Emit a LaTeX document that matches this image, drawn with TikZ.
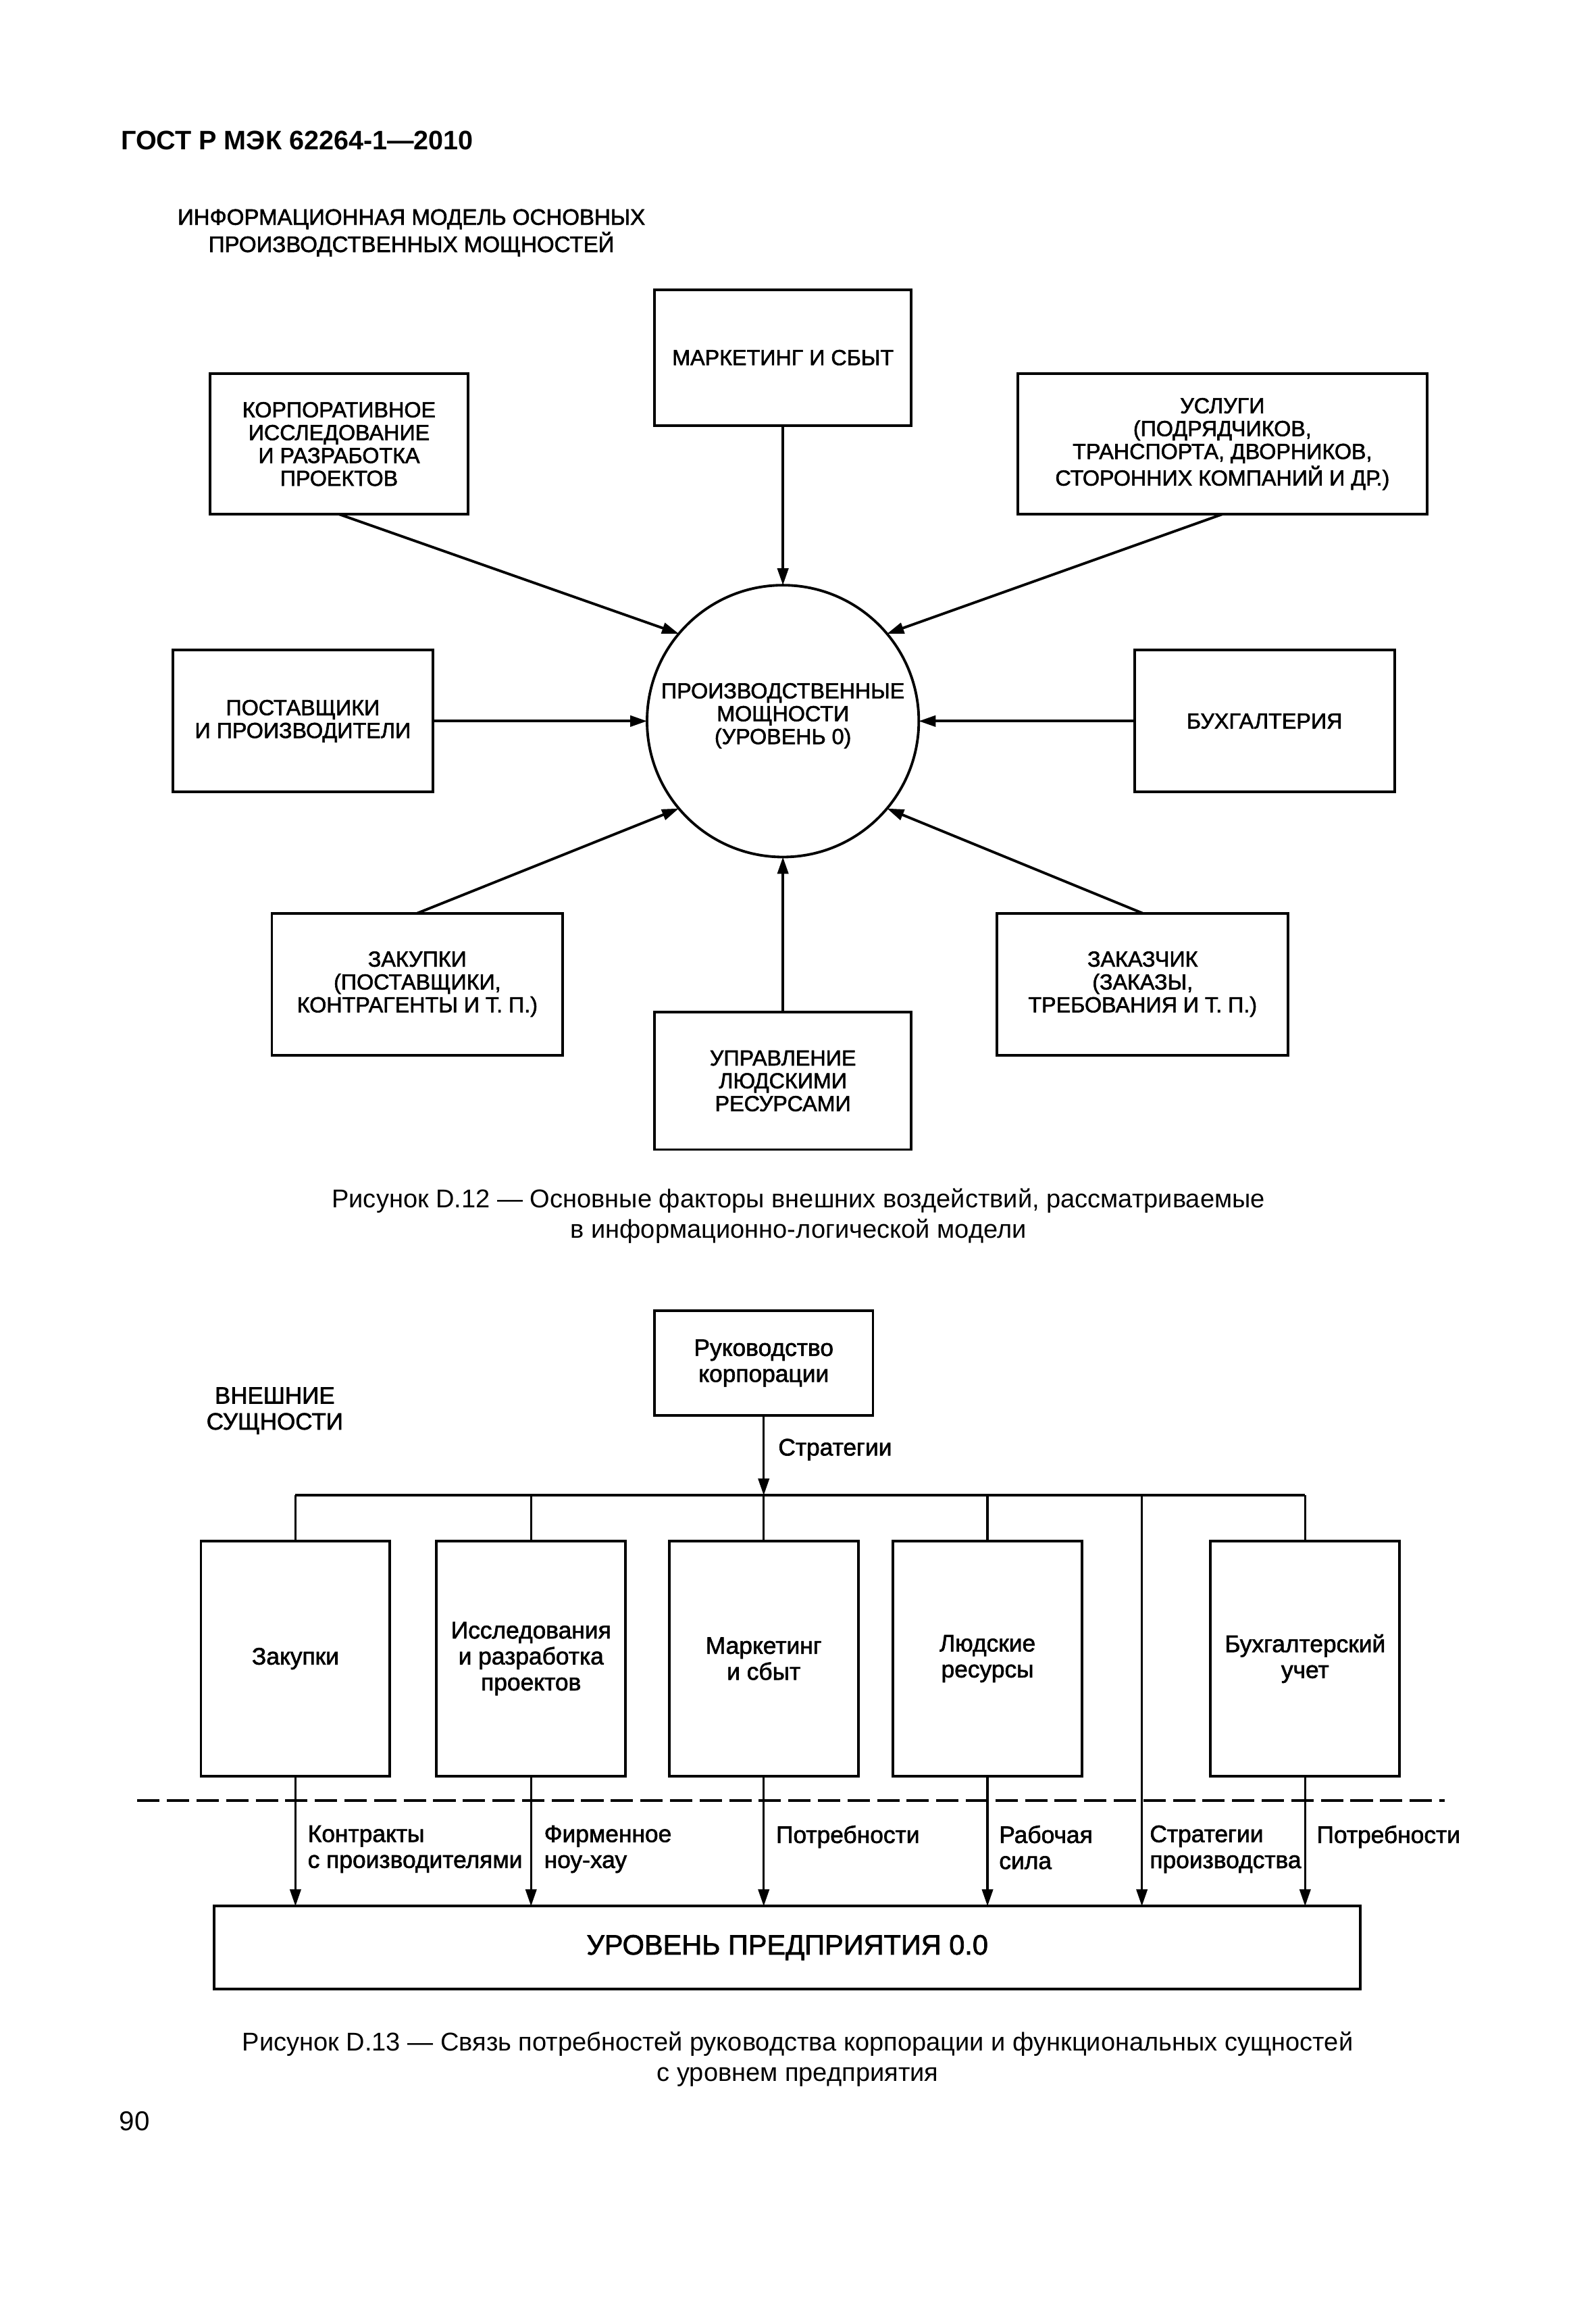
\documentclass[tikz,border=0pt]{standalone}
\usepackage{fontspec}
\setmainfont{Liberation Sans}
\newfontfamily\dfont{Liberation Sans}[FakeBold=1.8]
\usetikzlibrary{arrows.meta,calc}
\begin{document}
\begin{tikzpicture}[x=0.02cm,y=-0.02cm,
  line width=1pt,
  fa/.style={font=\dfont\fontsize{8.4}{8.8}\selectfont},
  fb/.style={font=\dfont\fontsize{9.2}{10}\selectfont},
  tbox/.style={draw, rectangle, align=center, inner sep=0pt, outer sep=0pt, fa},
  bbox/.style={draw, rectangle, align=center, inner sep=0pt, outer sep=0pt, fb},
  arr/.style={-{Triangle[length=6.5pt,width=4.2pt]}},
  thinln/.style={line width=0.9pt},
  lab/.style={fb, align=left, inner sep=0pt, anchor=north west},
]
\path[use as bounding box, fill=white] (0,0) rectangle (1080,1566);

% header and titles
\node[font=\fontsize{10.3}{12}\selectfont\bfseries, anchor=base west, inner sep=0pt] (hdr) at (81,101.4) {ГОСТ Р МЭК 62264-1—2010};
\node[font=\dfont\fontsize{8.6}{9.1}\selectfont, align=center, anchor=north, inner sep=0pt] (ttl) at (278.5,140.7) {ИНФОРМАЦИОННАЯ МОДЕЛЬ ОСНОВНЫХ\\ПРОИЗВОДСТВЕННЫХ МОЩНОСТЕЙ};

% top diagram
\node[tbox, minimum width=3.48cm, minimum height=1.84cm] (mark) at (530,242) {МАРКЕТИНГ И СБЫТ};
\node[tbox, minimum width=3.5cm, minimum height=1.9cm] (korp) at (229.5,300.5) {КОРПОРАТИВНОЕ\\ИССЛЕДОВАНИЕ\\И РАЗРАБОТКА\\ПРОЕКТОВ};
\node[tbox, minimum width=5.54cm, minimum height=1.9cm] (usl) at (827.5,300.5) {УСЛУГИ\\(ПОДРЯДЧИКОВ,\\ТРАНСПОРТА, ДВОРНИКОВ,\\СТОРОННИХ КОМПАНИЙ И ДР.)};
\node[circle, draw, minimum size=3.68cm, inner sep=0pt, outer sep=0pt, align=center, fa] (c) at (530,488) {ПРОИЗВОДСТВЕННЫЕ\\МОЩНОСТИ\\(УРОВЕНЬ 0)\\[-3pt]\mbox{}};
\node[tbox, minimum width=3.52cm, minimum height=1.92cm] (post) at (205,488) {ПОСТАВЩИКИ\\И ПРОИЗВОДИТЕЛИ};
\node[tbox, minimum width=3.52cm, minimum height=1.92cm] (buh) at (856,488) {БУХГАЛТЕРИЯ};
\node[tbox, minimum width=3.94cm, minimum height=1.92cm] (zak) at (282.5,666) {ЗАКУПКИ\\(ПОСТАВЩИКИ,\\КОНТРАГЕНТЫ И Т. П.)};
\node[tbox, minimum width=3.94cm, minimum height=1.92cm] (zakz) at (773.5,666) {ЗАКАЗЧИК\\(ЗАКАЗЫ,\\ТРЕБОВАНИЯ И Т. П.)};
\node[tbox, minimum width=3.48cm, minimum height=1.86cm] (upr) at (530,731.5) {УПРАВЛЕНИЕ\\ЛЮДСКИМИ\\РЕСУРСАМИ};

\draw[arr] (mark.south) -- (c.north);
\draw[arr] (upr.north) -- (c.south);
\draw[arr] (korp.south) -- (c.140);
\draw[arr] (usl.south) -- (c.40);
\draw[arr] (zak.north) -- (c.220);
\draw[arr] (zakz.north) -- (c.320);
\draw[arr] (post.east) -- (c.west);
\draw[arr] (buh.west) -- (c.east);

\node[font=\fontsize{9.9}{11.8}\selectfont, align=center, anchor=north, inner sep=0pt] (cap1) at (540.5,803.3) {Рисунок D.12 — Основные факторы внешних воздействий, рассматриваемые\\в информационно-логической модели};

% bottom diagram
\node[bbox, minimum width=2.96cm, minimum height=1.42cm] (ruk) at (517,922.5) {Руководство\\корпорации};
\node[font=\dfont\fontsize{9.1}{10}\selectfont, align=center, anchor=north, inner sep=0pt] (ext) at (186,938) {ВНЕШНИЕ\\СУЩНОСТИ};

\coordinate (b1) at (200,1012);
\coordinate (b2) at (359.5,1012);
\coordinate (bm) at (517,1012);
\coordinate (b4) at (668.5,1012);
\coordinate (b5) at (773,1012);
\coordinate (b6) at (883.5,1012);

\draw[arr, thinln] (ruk.south) -- (bm);
\node[fb, anchor=base west, inner sep=0pt] (strat) at (526,985) {Стратегии};
\draw (b1) -- (b6);

\node[bbox, minimum width=2.56cm, minimum height=3.18cm] (zakb) at (200,1122.5) {Закупки};
\node[bbox, minimum width=2.56cm, minimum height=3.18cm] (issl) at (359.5,1122.5) {Исследования\\и разработка\\проектов};
\node[bbox, minimum width=2.56cm, minimum height=3.18cm] (markb) at (517,1122.5) {Маркетинг\\и сбыт};
\node[bbox, minimum width=2.56cm, minimum height=3.18cm] (lyud) at (668.5,1122.5) {Людские\\ресурсы};
\node[bbox, minimum width=2.56cm, minimum height=3.18cm] (buhb) at (883.5,1122.5) {Бухгалтерский\\учет};

\draw[thinln] (b1) -- (zakb.north);
\draw[thinln] (b2) -- (issl.north);
\draw[thinln] (bm) -- (markb.north);
\draw[thinln] (b4) -- (lyud.north);
\draw[thinln] (b6) -- (buhb.north);

\node[draw, minimum width=15.52cm, minimum height=1.12cm, inner sep=0pt, outer sep=0pt, font=\dfont\fontsize{10.8}{12}\selectfont] (lvl) at (533,1318) {УРОВЕНЬ ПРЕДПРИЯТИЯ 0.0};

\coordinate (d1) at (93,1218.5);
\coordinate (d2) at (978,1218.5);
\draw[line width=1.1pt, dash pattern=on 8.6pt off 2.8pt] (d1) -- (d2);

\draw[arr, thinln] (zakb.south) -- (zakb.south |- lvl.north);
\draw[arr, thinln] (issl.south) -- (issl.south |- lvl.north);
\draw[arr, thinln] (markb.south) -- (markb.south |- lvl.north);
\draw[arr, thinln] (lyud.south) -- (lyud.south |- lvl.north);
\draw[arr, thinln] (b5) -- (b5 |- lvl.north);
\draw[arr, thinln] (buhb.south) -- (buhb.south |- lvl.north);

\node[lab] (l1) at (207.5,1234.5) {Контракты\\с производителями};
\node[lab] (l2) at (367.5,1234.5) {Фирменное\\ноу-хау};
\node[lab] (l3) at (524.5,1234.5) {Потребности};
\node[lab] (l4) at (675.5,1234.5) {Рабочая\\сила};
\node[lab] (l5) at (777.5,1234.5) {Стратегии\\производства};
\node[lab] (l6) at (890.5,1234.5) {Потребности};

\node[font=\fontsize{9.9}{11.7}\selectfont, align=center, anchor=north, inner sep=0pt] (cap2) at (540,1374) {Рисунок D.13 — Связь потребностей руководства корпорации и функциональных сущностей\\с уровнем предприятия};

\node[font=\fontsize{10.5}{12}\selectfont, anchor=base west, inner sep=0pt] (pg) at (80,1442) {90};
\end{tikzpicture}
\end{document}
